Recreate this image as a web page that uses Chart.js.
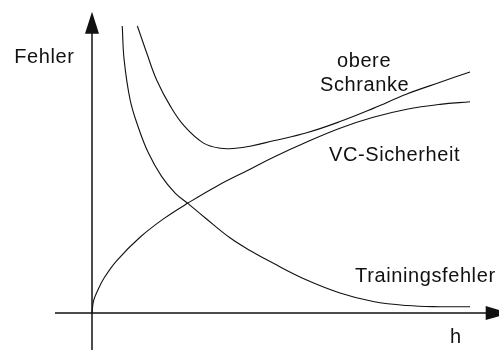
<!DOCTYPE html>
<html>
<head>
<meta charset="utf-8">
<script src="https://cdn.jsdelivr.net/npm/chart.js@4.4.0/dist/chart.umd.min.js"></script>
<style>
  body { margin: 0; background: #fff; }
  #wrap { width: 499px; height: 350px; position: relative; }
</style>
</head>
<body>
<div id="wrap"><canvas id="vcChart"></canvas></div>
<script>
// h values and error values
const trainH = [0.80, 0.85, 1.01, 1.22, 1.49, 1.84, 2.20, 2.55, 2.99, 3.65, 4.18, 4.80, 5.68, 6.56, 7.44, 8.33, 9.21, 10.0];
const trainErr = [10.0, 8.82, 7.42, 6.49, 5.58, 4.76, 4.18, 3.80, 3.32, 2.62, 2.18, 1.73, 1.15, 0.70, 0.40, 0.26, 0.22, 0.22];

const vcH = [0, 0.04, 0.14, 0.32, 0.65, 1.27, 1.89, 2.55, 3.30, 4.18, 4.80, 5.68, 6.56, 7.44, 8.33, 9.21, 10.0];
const vcConf = [0, 0.42, 0.76, 1.22, 1.82, 2.64, 3.28, 3.84, 4.42, 5.01, 5.43, 5.96, 6.44, 6.82, 7.10, 7.27, 7.36];

const boundH = [1.20, 1.45, 1.71, 2.08, 2.45, 2.95, 3.40, 3.80, 4.18, 4.80, 5.68, 6.56, 7.44, 8.33, 9.21, 10.0];
const boundErr = [10.0, 9.05, 8.12, 7.19, 6.50, 5.92, 5.74, 5.74, 5.81, 6.00, 6.28, 6.67, 7.13, 7.63, 8.04, 8.40];

const labelTexts = ["Fehler", "obere", "Schranke", "VC-Sicherheit", "Trainingsfehler", "h"];

const toPoints = (xs, ys) => xs.map((x, i) => ({ x: x, y: ys[i] }));

function lineSet(label, xs, ys) {
    return {
        label: label,
        data: toPoints(xs, ys),
        borderColor: "#111",
        borderWidth: 1.1,
        pointRadius: 0,
        fill: false,
        tension: 0.4
    };
}

// axes with arrow heads and the hand-placed labels
const sketchPlugin = {
    id: "sketch",
    afterDatasetsDraw(chart) {
        const ctx = chart.ctx;
        const xs = chart.scales.x;
        const ys = chart.scales.y;
        const ox = xs.getPixelForValue(0);
        const oy = ys.getPixelForValue(0);

        ctx.save();
        ctx.strokeStyle = "#111";
        ctx.fillStyle = "#111";
        ctx.lineWidth = 1.5;

        // y axis
        const yTip = ys.getPixelForValue(10.5);
        ctx.beginPath();
        ctx.moveTo(ox, chart.chartArea.bottom);
        ctx.lineTo(ox, yTip + 20);
        ctx.stroke();
        ctx.beginPath();
        ctx.moveTo(ox, yTip);
        ctx.lineTo(ox - 7, yTip + 22);
        ctx.lineTo(ox + 7, yTip + 22);
        ctx.closePath();
        ctx.fill();

        // x axis
        const xStart = xs.getPixelForValue(-0.98);
        const xTip = xs.getPixelForValue(11.05);
        ctx.beginPath();
        ctx.moveTo(xStart, oy);
        ctx.lineTo(xTip - 22, oy);
        ctx.stroke();
        ctx.beginPath();
        ctx.moveTo(xTip, oy);
        ctx.lineTo(xTip - 24, oy - 7);
        ctx.lineTo(xTip - 24, oy + 7);
        ctx.closePath();
        ctx.fill();

        // labels, anchored in data units (left, baseline)
        const anchors = [[-2.06, 8.71], [6.48, 8.57], [6.03, 7.74], [6.27, 5.30], [6.96, 1.08], [9.47, -1.05]];
        ctx.font = "20px 'Liberation Sans', Arial, sans-serif";
        ctx.letterSpacing = "0.6px";
        ctx.textAlign = "left";
        ctx.textBaseline = "alphabetic";
        labelTexts.forEach((t, i) => {
            ctx.fillText(t, xs.getPixelForValue(anchors[i][0]), ys.getPixelForValue(anchors[i][1]));
        });
        ctx.restore();
    }
};

const ctx = document.getElementById("vcChart").getContext("2d");
new Chart(ctx, {
    type: "line",
    data: {
        datasets: [
            lineSet("Trainingsfehler", trainH, trainErr),
            lineSet("VC-Sicherheit", vcH, vcConf),
            lineSet("obere Schranke", boundH, boundErr)
        ]
    },
    options: {
        responsive: true,
        maintainAspectRatio: false,
        animation: false,
        layout: { padding: 0 },
        plugins: {
            legend: { display: false },
            tooltip: { enabled: false }
        },
        scales: {
            x: { type: "linear", min: -2.434, max: 10.767, display: false },
            y: { type: "linear", min: -1.289, max: 10.906, display: false }
        }
    },
    plugins: [sketchPlugin]
});
</script>
</body>
</html>
